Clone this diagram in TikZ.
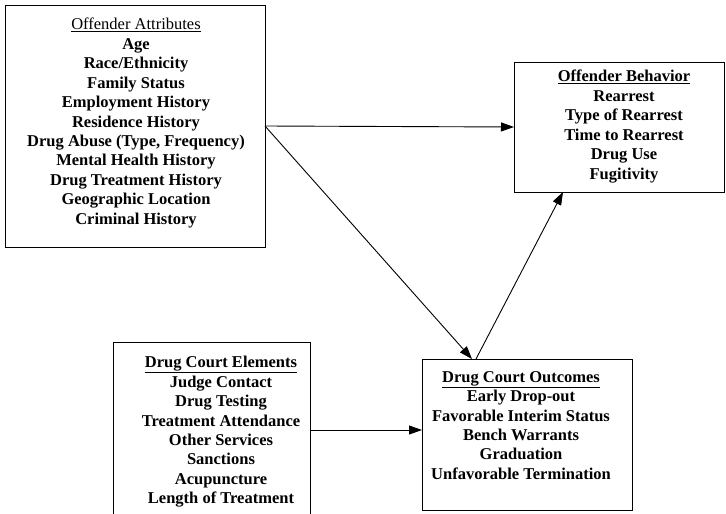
\documentclass[tikz,border=0pt]{standalone}
\usepackage{fontspec}
\setmainfont{Liberation Serif}
\usetikzlibrary{arrows.meta,calc}
\begin{document}
\begin{tikzpicture}[x=1pt,y=-1pt,
  box/.style={draw,line width=0.8pt,inner sep=0pt,outer sep=0pt},
  txt/.style={anchor=north,align=center,inner sep=0pt,font=\fontsize{16.5}{19.45}\selectfont\bfseries},
  conn/.style={line width=0.9pt,-{Triangle[length=13pt,width=9pt]}}]
\useasboundingbox (0,0) rectangle (726,514);
% boxes
\node[box,minimum width=260pt,minimum height=242pt] (b1) at (135,126) {};
\node[box,minimum width=210pt,minimum height=130pt] (b2) at (619,127) {};
\node[box,minimum width=197pt,minimum height=176pt] (b3) at (211.5,430) {};
\node[box,minimum width=210pt,minimum height=151pt] (b4) at (527,434.5) {};
% texts
\node[txt] (t1) at (136,18) {{\mdseries\underline{Offender Attributes}}\\Age\\Race/Ethnicity\\Family Status\\Employment History\\Residence History\\Drug Abuse (Type, Frequency)\\Mental Health History\\Drug Treatment History\\Geographic Location\\Criminal History};
\node[txt] (t2) at (624,70) {\underline{Offender Behavior}\\Rearrest\\Type of Rearrest\\Time to Rearrest\\Drug Use\\Fugitivity};
\node[txt] (t3) at (221,356) {\underline{Drug Court Elements}\\Judge Contact\\Drug Testing\\Treatment Attendance\\Other Services\\Sanctions\\Acupuncture\\Length of Treatment};
\node[txt] (t4) at (521,371) {\underline{Drug Court Outcomes}\\Early Drop-out\\Favorable Interim Status\\Bench Warrants\\Graduation\\Unfavorable Termination};
% connector points
\coordinate (p41) at ($(b4.north west)+(50,0)$);
\coordinate (p42) at ($(b4.north west)+(54,0)$);
\coordinate (p2s) at ($(b2.south west)+(49,0)$);
% connectors
\draw[conn] (b1.east) -- (b2.west);
\draw[conn] (b1.east) -- (p41);
\draw[conn] (p42) -- (p2s);
\draw[conn] (b3.east) -- (b3.east -| b4.west);
\end{tikzpicture}
\end{document}
